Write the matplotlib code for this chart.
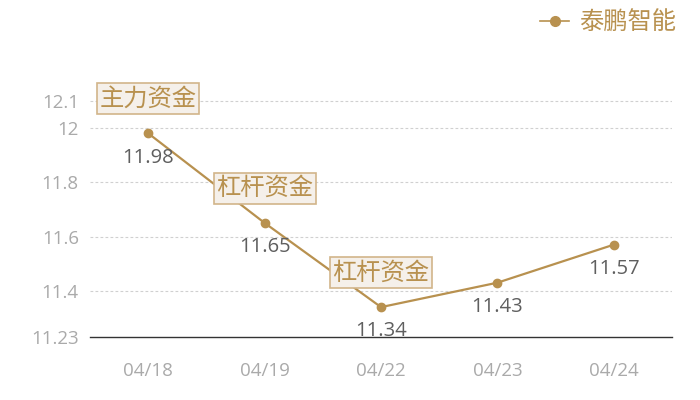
import matplotlib
matplotlib.use("Agg")
import matplotlib.pyplot as plt
from matplotlib.lines import Line2D

plt.rcParams['font.family'] = ['Noto Sans CJK SC', 'DejaVu Sans']
num_font = ['Open Sans', 'DejaVu Sans']

# data
dates = ['04/18', '04/19', '04/22', '04/23', '04/24']
prices = [11.98, 11.65, 11.34, 11.43, 11.57]
series_name = '泰鹏智能'
# labelled boxes: (index of point, text)
flags = [(0, '主力资金'), (1, '杠杆资金'), (2, '杠杆资金')]
yticks = [11.23, 11.4, 11.6, 11.8, 12, 12.1]
ytick_labels = ['11.23', '11.4', '11.6', '11.8', '12', '12.1']

gold = '#b8914f'
fig = plt.figure(figsize=(7, 4), dpi=100)
ax = fig.add_axes([0.1286, 0.1575, 0.8314, 0.6925])

x = list(range(len(dates)))
ax.plot(x, prices, color=gold, lw=1.6, marker='o', ms=6, zorder=3)

for i, v in enumerate(prices):
    ax.annotate(f'{v:.2f}', (i, v), xytext=(0, -17.5), textcoords='offset points',
                ha='center', va='center', fontsize=14.5, color='#5f5f5f', family=num_font)

for i, txt in flags:
    ax.annotate(txt, (i, prices[i]), xytext=(0, 25), textcoords='offset points',
                ha='center', va='center', fontsize=17.5, color=gold, zorder=5,
                bbox=dict(boxstyle='square,pad=0.1', fc='#f5f0ea', ec='#d2b58a', lw=1.2))

ax.set_xlim(-0.5, 4.5)
ax.set_ylim(11.23, 12.25)
ax.set_xticks(x)
ax.set_xticklabels(dates, family=num_font)
ax.set_yticks(yticks)
ax.set_yticklabels(ytick_labels, family=num_font)
ax.tick_params(length=0, labelsize=13.5, labelcolor='#aaaaaa')
ax.tick_params(axis='x', pad=18)
ax.tick_params(axis='y', pad=8)

for yv in yticks[1:]:
    ax.axhline(yv, color='#d0d0d0', lw=0.8, ls=(0, (2.5, 2)), zorder=1)

for s in ['top', 'right', 'left']:
    ax.spines[s].set_visible(False)
ax.spines['bottom'].set_color('#333333')
ax.spines['bottom'].set_linewidth(1)

handle = Line2D([], [], color=gold, lw=1.2, marker='o', ms=7)
leg = fig.legend([handle], [series_name], loc='upper right', bbox_to_anchor=(0.997, 1.03),
                 frameon=False, fontsize=17.5, handlelength=1.2, handletextpad=0.4)
for t in leg.get_texts():
    t.set_color(gold)

fig.savefig('out.png')
